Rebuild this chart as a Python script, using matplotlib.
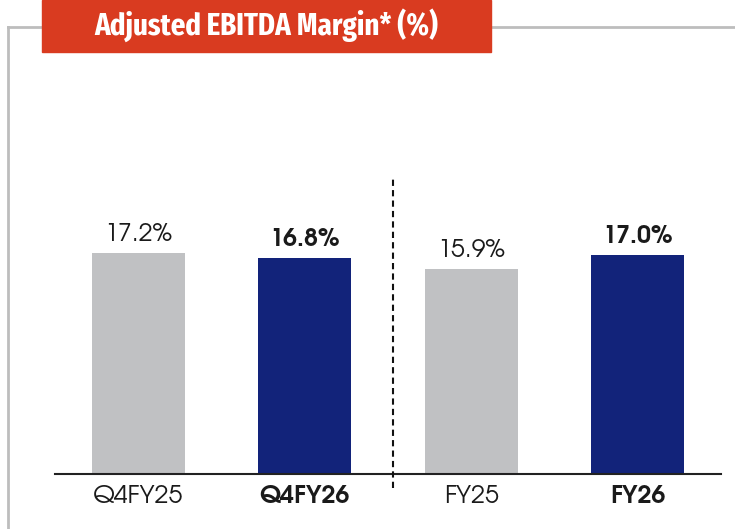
import matplotlib
matplotlib.use("Agg")
import matplotlib.pyplot as plt
from matplotlib.patches import Rectangle
from matplotlib.lines import Line2D

categories = ["Q4FY25", "Q4FY26", "FY25", "FY26"]
values = [17.2, 16.8, 15.9, 17.0]
value_labels = ["17.2%", "16.8%", "15.9%", "17.0%"]
bold = [False, True, False, True]
colors = ["#C0C1C3", "#12237A", "#C0C1C3", "#12237A"]
title = "Adjusted EBITDA Margin* (%)"

FONT = ["TeX Gyre Adventor", "DejaVu Sans"]
TITLE_FONT = ["Fira Sans Extra Condensed", "DejaVu Sans"]

W, H = 735, 529
fig = plt.figure(figsize=(W / 100, H / 100), dpi=100)
fig.patch.set_facecolor("white")

ax_left, ax_right, ax_bottom, ax_top = 55, 721, 474, 60
ax = fig.add_axes([ax_left / W, (H - ax_bottom) / H, (ax_right - ax_left) / W, (ax_bottom - ax_top) / H])
ymax = (ax_bottom - ax_top) / 12.87
x = list(range(len(categories)))
ax.bar(x, values, width=0.56, color=colors, zorder=2)
ax.set_xlim(-0.5, 3.5)
ax.set_ylim(0, ymax)
for s in ["top", "right", "left"]:
    ax.spines[s].set_visible(False)
ax.spines["bottom"].set_color("#222222")
ax.spines["bottom"].set_linewidth(1.5)
ax.set_yticks([])
ax.set_xticks(x)
ax.set_xticklabels(categories)
ax.tick_params(axis="x", length=0, pad=8)
for lbl, b in zip(ax.get_xticklabels(), bold):
    lbl.set_fontsize(18)
    lbl.set_fontfamily(FONT)
    lbl.set_fontweight("bold" if b else "normal")
    lbl.set_color("#1a1a1a")

for xi, v, t, b in zip(x, values, value_labels, bold):
    ax.annotate(t, (xi, v), xytext=(0, 5), textcoords="offset points",
                ha="center", va="bottom", fontsize=18,
                fontweight="bold" if b else "normal", color="#1a1a1a",
                family=FONT)

sep_x = 1.53
ax.plot([sep_x, sep_x], [-14 / 12.87, (474 - 178) / 12.87], ls=(0, (3, 2)), color="#111111",
        lw=1.5, clip_on=False, zorder=3)

gray = "#BDBDBD"
fig.add_artist(Line2D([8 / W, 8 / W], [0, 1 - 27 / H], color=gray, lw=2, transform=fig.transFigure))
fig.add_artist(Line2D([8 / W, 42 / W], [1 - 27 / H, 1 - 27 / H], color=gray, lw=2, transform=fig.transFigure))
fig.add_artist(Line2D([491 / W, 1], [1 - 27 / H, 1 - 27 / H], color=gray, lw=2, transform=fig.transFigure))

fig.add_artist(Rectangle((42 / W, 1 - 52 / H), (491 - 42) / W, 52 / H, color="#D93B20",
                         transform=fig.transFigure, zorder=5))
fig.text(266.5 / W, 1 - 25 / H, title, ha="center", va="center", color="white",
         fontsize=22.5, fontweight="bold", family=TITLE_FONT, zorder=6)

fig.savefig("out.png", dpi=100)
